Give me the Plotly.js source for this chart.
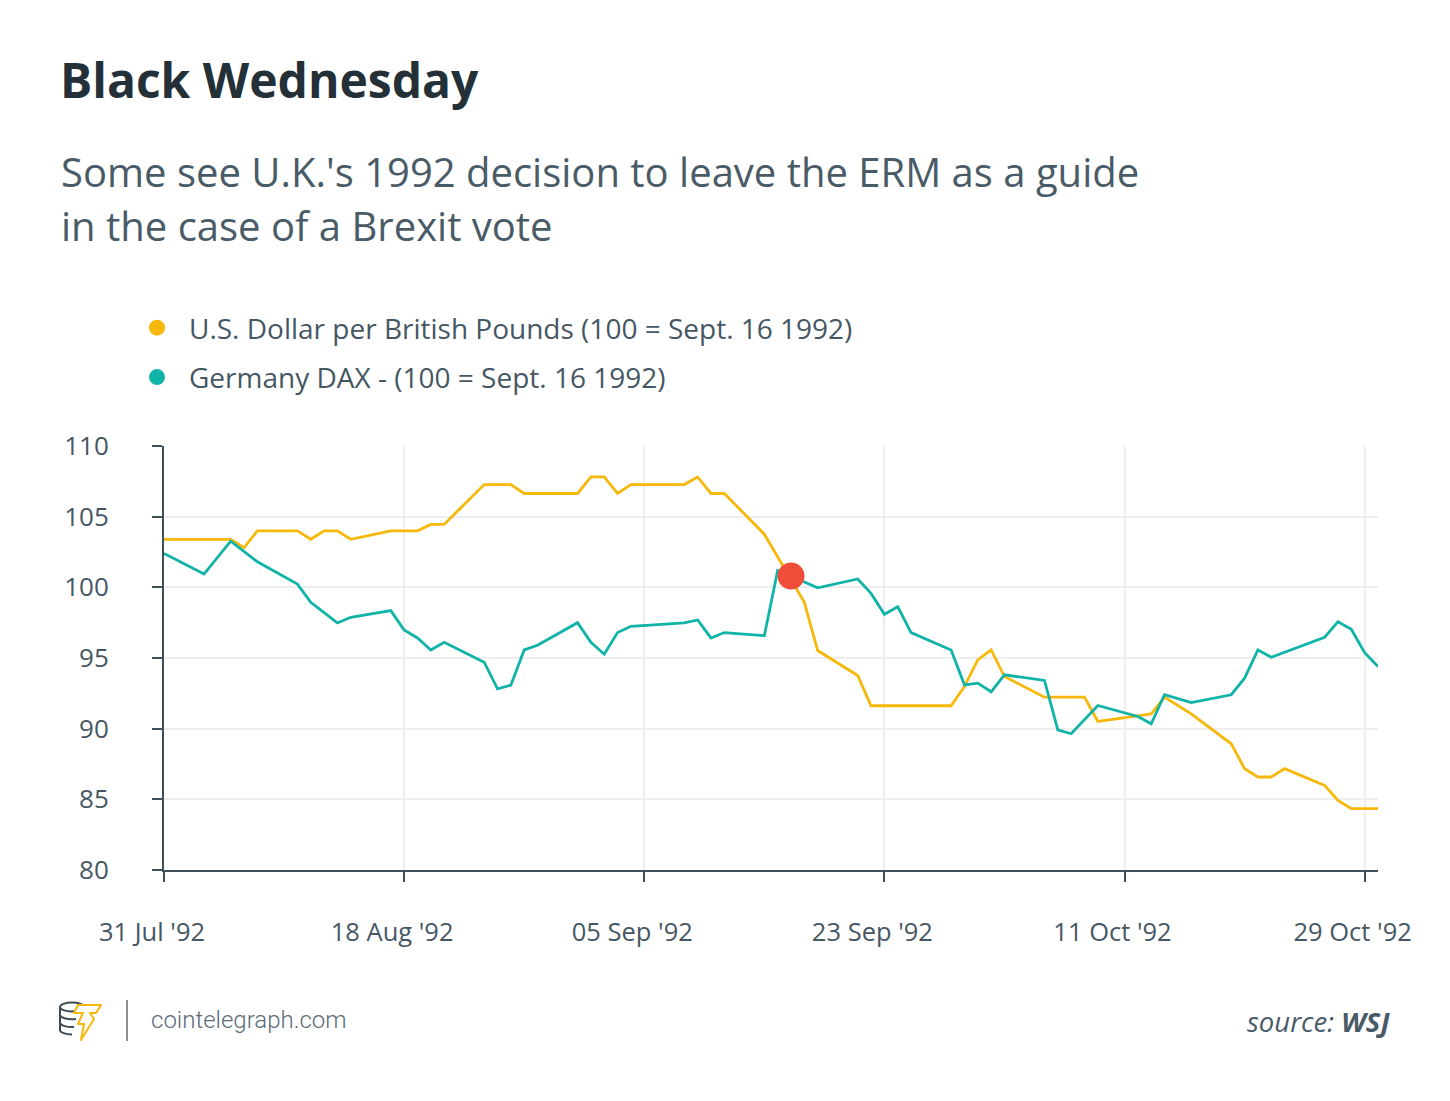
<!DOCTYPE html>
<html>
<head>
<meta charset="utf-8">
<script src="https://cdn.plot.ly/plotly-3.0.1.min.js"></script>
<style>
html,body{margin:0;padding:0;background:#ffffff;}
#wrap{position:relative;width:1450px;height:1101px;}
#chart{width:1450px;height:1101px;}
#logo{position:absolute;left:0;top:0;width:1450px;height:1101px;pointer-events:none;}
</style>
</head>
<body>
<div id="wrap">
<div id="chart"></div>
<svg id="logo" viewBox="0 0 1450 1101">
  <g fill="none" stroke="#3d4a55" stroke-width="2">
    <ellipse cx="72" cy="1007" rx="12" ry="4.5"/>
    <path d="M60 1007 L60 1030 M84 1007 L84 1012"/>
    <path d="M60 1015 A12 4.5 0 0 0 76 1019"/>
    <path d="M60 1023 A12 4.5 0 0 0 74 1027"/>
    <path d="M60 1030 A12 4.5 0 0 0 72 1034.5"/>
  </g>
  <path d="M78 1005 L101 1005 L96 1013 L90 1013 L94 1019 L81 1040 L84 1024 L78 1024 L83 1013 L74 1013 Z"
        fill="#ffffff" stroke="#f6b80a" stroke-width="2" stroke-linejoin="round"/>
</svg>
</div>
<script>
// ---- data ----
const usdName = 'U.S. Dollar per British Pounds (100 = Sept. 16 1992)';
const daxName = 'Germany DAX - (100 = Sept. 16 1992)';

const usdDates = ['1992-07-31','1992-08-05','1992-08-06','1992-08-07','1992-08-10','1992-08-11','1992-08-12','1992-08-13','1992-08-14','1992-08-17','1992-08-19','1992-08-20','1992-08-21','1992-08-24','1992-08-26','1992-08-27','1992-08-31','1992-09-01','1992-09-02','1992-09-03','1992-09-04','1992-09-08','1992-09-09','1992-09-10','1992-09-11','1992-09-14','1992-09-17','1992-09-18','1992-09-21','1992-09-22','1992-09-28','1992-09-29','1992-09-30','1992-10-01','1992-10-02','1992-10-05','1992-10-08','1992-10-09','1992-10-13','1992-10-14','1992-10-16','1992-10-19','1992-10-20','1992-10-21','1992-10-22','1992-10-23','1992-10-26','1992-10-27','1992-10-28','1992-10-30'];
const usdValues = [103.4,103.4,102.8,104.0,104.0,103.4,104.0,104.0,103.4,104.0,104.0,104.45,104.45,107.27,107.27,106.64,106.64,107.81,107.81,106.64,107.27,107.27,107.81,106.64,106.64,103.76,98.94,95.53,93.76,91.62,91.62,92.98,94.87,95.57,93.69,92.23,92.23,90.51,91.05,92.23,91.05,88.93,87.17,86.58,86.58,87.17,85.99,84.93,84.34,84.34];

const daxDates = ['1992-07-31','1992-08-03','1992-08-05','1992-08-07','1992-08-10','1992-08-11','1992-08-13','1992-08-14','1992-08-17','1992-08-18','1992-08-19','1992-08-20','1992-08-21','1992-08-24','1992-08-25','1992-08-26','1992-08-27','1992-08-28','1992-08-31','1992-09-01','1992-09-02','1992-09-03','1992-09-04','1992-09-08','1992-09-09','1992-09-10','1992-09-11','1992-09-14','1992-09-15','1992-09-16','1992-09-17','1992-09-18','1992-09-21','1992-09-22','1992-09-23','1992-09-24','1992-09-25','1992-09-28','1992-09-29','1992-09-30','1992-10-01','1992-10-02','1992-10-05','1992-10-06','1992-10-07','1992-10-09','1992-10-12','1992-10-13','1992-10-14','1992-10-16','1992-10-19','1992-10-20','1992-10-21','1992-10-22','1992-10-26','1992-10-27','1992-10-28','1992-10-29','1992-10-30'];
const daxValues = [102.4,100.94,103.27,101.81,100.23,98.94,97.48,97.88,98.35,96.98,96.42,95.57,96.11,94.7,92.82,93.08,95.57,95.9,97.5,96.11,95.27,96.8,97.24,97.48,97.69,96.42,96.8,96.58,101.2,100.8,100.4,99.97,100.59,99.57,98.09,98.63,96.8,95.57,93.1,93.22,92.61,93.81,93.41,89.92,89.64,91.64,90.86,90.35,92.4,91.85,92.4,93.57,95.57,95.05,96.47,97.57,97.03,95.38,94.4];

const eventDate = ['1992-09-16'];
const eventValue = [100.8];

const xRange = ['1992-07-31','1992-10-30'];
const tickStart = '1992-07-31';
const tickStepDays = 18;
const yTicks = [80,85,90,95,100,105,110];

// ---- styles ----
const usdColor = '#f6b80a';
const daxColor = '#10b3a8';
const eventColor = '#ef4c3a';
const textColor = '#465764';
const axisColor = '#3f505c';
const gridColor = '#eeeeee';
const FONT = '"Open Sans", "DejaVu Sans", sans-serif';

const traces = [
  {x: usdDates, y: usdValues, type: 'scatter', mode: 'lines', name: usdName,
   line: {color: usdColor, width: 2.8}, showlegend: false, hoverinfo: 'skip'},
  {x: daxDates, y: daxValues, type: 'scatter', mode: 'lines', name: daxName,
   line: {color: daxColor, width: 2.8}, showlegend: false, hoverinfo: 'skip'},
  {x: eventDate, y: eventValue, type: 'scatter', mode: 'markers', name: 'Black Wednesday',
   marker: {color: eventColor, size: 27}, showlegend: false, hoverinfo: 'skip'},
  // legend entries (circle symbols)
  {x: [null], y: [null], type: 'scatter', mode: 'markers', name: usdName, legendgroup: 'usd',
   marker: {color: usdColor, size: 18}, showlegend: true},
  {x: [null], y: [null], type: 'scatter', mode: 'markers', name: daxName, legendgroup: 'dax',
   marker: {color: daxColor, size: 18}, showlegend: true}
];

const px2x = p => (p - 164) / 1214;
const py2y = p => (870 - p) / 424;

const layout = {
  width: 1450, height: 1101,
  margin: {l: 164, r: 72, t: 446, b: 231, pad: 0},
  paper_bgcolor: '#ffffff', plot_bgcolor: '#ffffff',
  font: {family: FONT, color: textColor},
  title: {
    text: 'Black Wednesday',
    font: {family: FONT, size: 48, weight: 700, color: '#243038'},
    xref: 'container', yref: 'container',
    x: 60 / 1450, xanchor: 'left',
    y: 1 - 81 / 1101, yanchor: 'middle'
  },
  showlegend: true,
  legend: {
    x: px2x(125), xanchor: 'left',
    y: py2y(303), yanchor: 'top',
    font: {family: FONT, size: 28, color: textColor},
    traceorder: 'grouped', tracegroupgap: 10,
    bgcolor: 'rgba(0,0,0,0)', itemwidth: 54
  },
  xaxis: {
    type: 'date', range: xRange,
    tick0: tickStart, dtick: tickStepDays * 86400000,
    tickformat: "%d %b '%y",
    showline: true, linecolor: axisColor, linewidth: 2,
    ticks: 'outside', ticklen: 10, tickwidth: 2, tickcolor: axisColor,
    showgrid: true, gridcolor: gridColor, gridwidth: 2,
    zeroline: false,
    tickfont: {family: FONT, size: 25.5, color: textColor},
    ticklabelstandoff: 28, ticklabelshift: -12,
    fixedrange: true
  },
  yaxis: {
    range: [80, 110], tickvals: yTicks,
    showline: true, linecolor: axisColor, linewidth: 2,
    ticks: 'outside', ticklen: 10, tickwidth: 2, tickcolor: axisColor,
    showgrid: true, gridcolor: gridColor, gridwidth: 2,
    zeroline: false,
    tickfont: {family: FONT, size: 26, color: textColor},
    ticklabelstandoff: 38,
    fixedrange: true
  },
  annotations: [
    {text: "Some see U.K.'s 1992 decision to leave the ERM as a guide",
     xref: 'paper', yref: 'paper', x: px2x(59), y: py2y(171), xanchor: 'left', yanchor: 'middle',
     showarrow: false, font: {family: FONT, size: 40, color: '#4a5b68'}},
    {text: 'in the case of a Brexit vote',
     xref: 'paper', yref: 'paper', x: px2x(59), y: py2y(225), xanchor: 'left', yanchor: 'middle',
     showarrow: false, font: {family: FONT, size: 40, color: '#4a5b68'}},
    {text: 'cointelegraph.com',
     xref: 'paper', yref: 'paper', x: px2x(149), y: py2y(1020), xanchor: 'left', yanchor: 'middle',
     showarrow: false, font: {family: 'Roboto, sans-serif', size: 24, weight: 300, color: '#5b6b78'}},
    {text: '<i>source: <b>WSJ</b></i>',
     xref: 'paper', yref: 'paper', x: px2x(1392), y: py2y(1021), xanchor: 'right', yanchor: 'middle',
     showarrow: false, font: {family: FONT, size: 27.5, color: '#4a5b68'}}
  ],
  shapes: [
    {type: 'line', xref: 'paper', yref: 'paper', x0: px2x(127), x1: px2x(127), y0: py2y(1000), y1: py2y(1041),
     line: {color: '#8a8f94', width: 2}}
  ]
};

Plotly.newPlot('chart', traces, layout, {displayModeBar: false, staticPlot: true});
</script>
</body>
</html>
